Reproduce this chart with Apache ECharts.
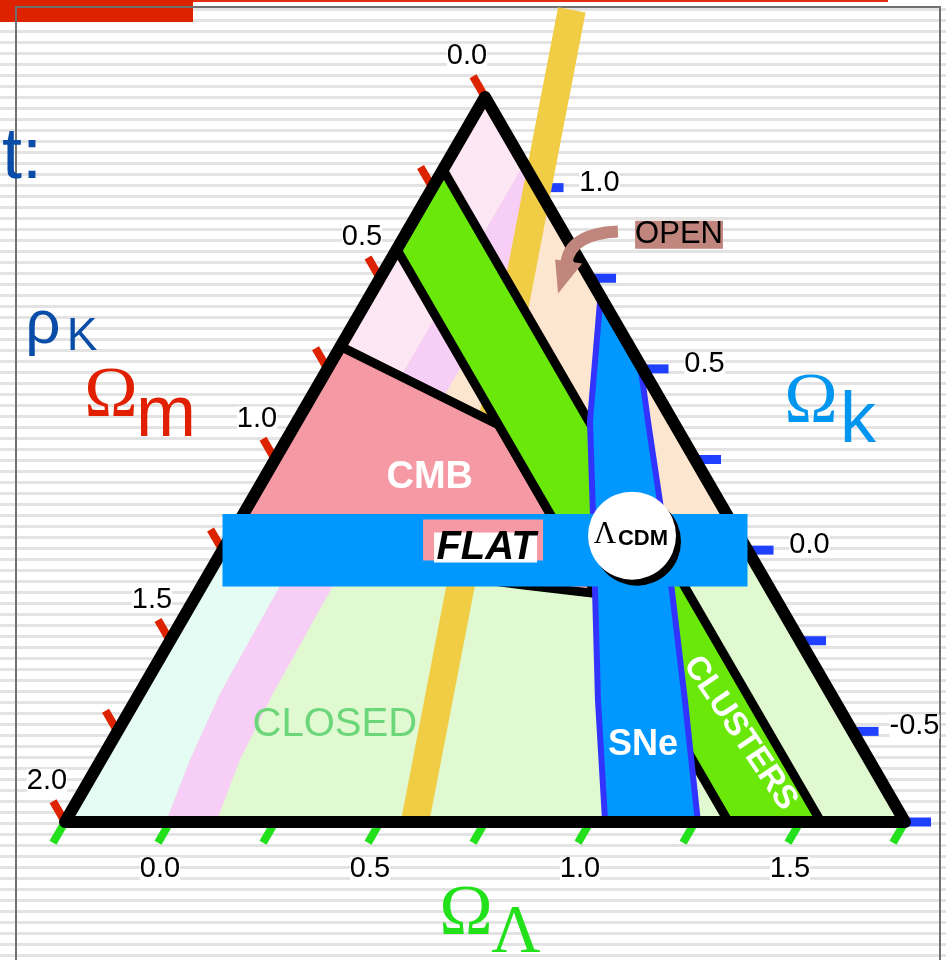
<!DOCTYPE html>
<html>
<head>
<meta charset="utf-8">
<title>Cosmic triangle</title>
<script src="https://cdn.jsdelivr.net/npm/echarts@6.0.0/dist/echarts.min.js"></script>
<style>
  html, body { margin: 0; padding: 0; }
  #main {
    width: 946px; height: 960px;
    background: repeating-linear-gradient(to bottom, #fff 0, #fff 8px, #e3e3e3 8px, #e3e3e3 11px);
  }
</style>
</head>
<body>
<div id="main"></div>
<script>
// every point below is [Ωm, ΩΛ]; Ωk = 1 - Ωm - ΩΛ
const omTicks = [0, 0.25, 0.5, 0.75, 1, 1.25, 1.5, 1.75, 2];
const omLabels = [0, 0.5, 1, 1.5, 2];
const olTicks = [-0.25, 0, 0.25, 0.5, 0.75, 1, 1.25, 1.5, 1.75];
const olLabels = [0, 0.5, 1, 1.5];
const okTicks = [1, 0.75, 0.5, 0.25, 0, -0.25, -0.5, -0.75];
const okLabels = [1, 0.5, 0, -0.5];

const triangle = [[0, -0.25], [0, 1.75], [2, -0.25]];
const openPart = [[0, -0.25], [0, 1], [1.25, -0.25]];
const closedPart = [[1.25, -0.25], [0, 1], [0, 1.75], [2, -0.25]];
// recollapse band (ΩΛ ~ 0)
const pinkLeft = [[0, -0.065], [1.065, -0.065], [1.162, -0.064], [1.453, -0.058], [1.617, -0.038], [1.76, -0.01]];
const pinkRight = [[0, 0.065], [0.935, 0.065], [1.036, 0.062], [1.327, 0.068], [1.498, 0.081], [1.64, 0.11]];
// accelerating / decelerating line ΩΛ = Ωm/2
const yellowLine = [[-0.327, -0.1635], [1.1667, 0.5833]];
const cmbArea = [[0.688, -0.25], [0.42, 0.235], [0.42, 0.70], [0.572, 0.526], [1.241, -0.25]];
const clusterLo = 0.2, clusterHi = 0.42;
const sneLeft = [[0, 0.30], [0.197, 0.447], [0.318, 0.582], [0.419, 0.693], [0.563, 0.851], [0.714, 1.036]];
const sneRight = [[0, 0.49], [0.059, 0.585], [0.154, 0.746], [0.236, 0.876], [0.356, 1.058], [0.493, 1.257]];
const flatBand = [[1.2, -0.3], [-0.05, 0.95], [0.05, 1.05], [1.3, -0.2]];
const lcdm = [0.255, 0.705];

const openLabel = [-0.272, 0.402];
const cmbLabel = [0.657, 0.144];
const flatLabel = [0.619, 0.374];
const closedLabel = [1.224, 0.259];
const sneLabel = [0.518, 1.02];
const clustersLabel = [0.27, 1.235];
const arrowShaft = [[-0.131, 0.252], [-0.014, 0.141], [0.036, 0.173]];
const arrowHead = [[0.057, 0.141], [-0.002, 0.211], [0.097, 0.195]];

const SANS = "'Liberation Sans', Arial, sans-serif";
const SERIF = "'Liberation Serif', 'Times New Roman', serif";
const TICK = 0.057, TICK_K = 0.062;

// ternary -> cartesian (x along base, y = height fraction)
function tern(p) {
  const ok = 1 - p[0] - p[1];
  const c = (ok + 0.75) / 2;
  const b = (p[1] + 0.25) / 2;
  return [b + c / 2, c];
}

function poly(P, pts, fill, stroke, lw) {
  return { type: 'polygon', shape: { points: pts.map(P) },
    style: { fill: fill, stroke: stroke || null, lineWidth: lw || 0, lineJoin: 'round' } };
}
function pline(P, pts, stroke, lw) {
  return { type: 'polyline', shape: { points: pts.map(P) },
    style: { fill: null, stroke: stroke, lineWidth: lw, lineCap: 'butt', lineJoin: 'round' } };
}
function txt(x, y, s, style, extra) {
  return Object.assign({ type: 'text', x: x, y: y,
    style: Object.assign({ text: s, align: 'center', verticalAlign: 'middle' }, style) }, extra || {});
}
function layer(z, build) {
  return {
    type: 'custom', coordinateSystem: 'cartesian2d', z: z, silent: true, clip: false,
    data: [[0, 0]],
    renderItem: function (params, api) {
      const P = function (p) { return api.coord(tern(p)); };
      return { type: 'group', children: build(P) };
    }
  };
}

const numStyle = { fill: '#000', fontSize: 29, fontFamily: SANS, backgroundColor: '#fff', lineHeight: 24 };

const series = [
  layer(1, function (P) {
    return [
      poly(P, openPart, '#fde6cf'),
      poly(P, closedPart, '#e1f9d0'),
      poly(P, [[0, -0.25], [0, -0.065], [1.065, -0.065], [1.25, -0.25]], '#fde7f5'),
      poly(P, [[1.25, -0.25]].concat(pinkLeft.slice(1), [[2, -0.25]]), '#e4fcf4'),
      poly(P, pinkLeft.concat(pinkRight.slice().reverse()), '#f7cff6')
    ];
  }),
  layer(2, function (P) {
    const out = [];
    omTicks.forEach(function (v) { out.push(pline(P, [[v, -0.25], [v, -0.25 - TICK]], '#dd2200', 8)); });
    olTicks.forEach(function (v) { out.push(pline(P, [[1.75 - v, v], [1.75 - v + TICK, v]], '#22e01a', 8)); });
    okTicks.forEach(function (v) { out.push(pline(P, [[0, 1 - v], [-TICK_K, 1 - v + TICK_K]], '#2040ff', 9)); });
    return out;
  }),
  layer(3, function (P) { return [pline(P, yellowLine, '#f0cd45', 28)]; }),
  layer(4, function (P) { return [poly(P, cmbArea, '#f59aa5', '#000', 9)]; }),
  layer(5, function (P) {
    return [
      poly(P, [[clusterLo, -0.25], [clusterLo, 1.75 - clusterLo], [clusterHi, 1.75 - clusterHi], [clusterHi, -0.25]], '#6ae80a'),
      pline(P, [[clusterLo, -0.25], [clusterLo, 1.75 - clusterLo]], '#000', 9),
      pline(P, [[clusterHi, -0.25], [clusterHi, 1.75 - clusterHi]], '#000', 9)
    ];
  }),
  layer(6, function (P) {
    return [
      poly(P, sneLeft.concat(sneRight.slice().reverse()), '#0098ff'),
      pline(P, sneLeft, '#3333ff', 6),
      pline(P, sneRight, '#3333ff', 6)
    ];
  }),
  layer(7, function (P) { return [poly(P, triangle, null, '#000', 12)]; }),
  layer(8, function (P) { return [poly(P, flatBand, '#0098ff')]; }),
  layer(9, function (P) {
    const out = [];
    omLabels.forEach(function (v) { const p = P([v, -0.25]); out.push(txt(p[0] - 18, p[1] - 41, v.toFixed(1), numStyle)); });
    olLabels.forEach(function (v) { const p = P([1.75 - v, v]); out.push(txt(p[0] - 10, p[1] + 47, v.toFixed(1), numStyle)); });
    okLabels.forEach(function (v) { const p = P([0, 1 - v]); out.push(txt(p[0] + 62, p[1] - 5, v.toFixed(1), numStyle)); });

    let p = P(cmbLabel);
    out.push(txt(p[0], p[1], 'CMB', { fill: '#fff', fontSize: 38, fontWeight: 'bold', fontFamily: SANS }));
    p = P(closedLabel);
    out.push(txt(p[0], p[1], 'CLOSED', { fill: '#6cd67a', fontSize: 40, fontFamily: SANS }));
    p = P(sneLabel);
    out.push(txt(p[0], p[1], 'SNe', { fill: '#fff', fontSize: 36, fontWeight: 'bold', fontFamily: SANS }));
    p = P(clustersLabel);
    out.push(txt(p[0], p[1], 'CLUSTERS', { fill: '#fff', fontSize: 33, fontWeight: 'bold', fontFamily: SANS },
      { rotation: -56 * Math.PI / 180 }));

    p = P(flatLabel);
    out.push({ type: 'rect', shape: { x: p[0] - 63, y: p[1] - 28, width: 120, height: 41 }, style: { fill: '#f59aa5' } });
    out.push({ type: 'rect', shape: { x: p[0] - 52, y: p[1] - 15, width: 103, height: 30 }, style: { fill: '#fff' } });
    out.push(txt(p[0], p[1], 'FLAT', { fill: '#000', fontSize: 40, fontWeight: 'bold', fontStyle: 'italic', fontFamily: SANS }));

    p = P(lcdm);
    out.push({ type: 'circle', shape: { cx: p[0] + 5, cy: p[1] + 6, r: 44 }, style: { fill: '#000' } });
    out.push({ type: 'circle', shape: { cx: p[0], cy: p[1], r: 44 }, style: { fill: '#fff' } });
    out.push(txt(p[0] - 27, p[1] - 1, 'Λ', { fill: '#000', fontSize: 31, fontFamily: SERIF }));
    out.push(txt(p[0] + 11, p[1] + 3, 'CDM', { fill: '#000', fontSize: 22, fontWeight: 'bold', fontFamily: SANS }));

    const a0 = P(arrowShaft[0]), a1 = P(arrowShaft[1]), a2 = P(arrowShaft[2]);
    out.push({ type: 'bezierCurve', shape: { x1: a0[0], y1: a0[1], cpx1: a1[0], cpy1: a1[1], x2: a2[0], y2: a2[1] },
      style: { fill: null, stroke: '#c0867e', lineWidth: 12 } });
    out.push(poly(P, arrowHead, '#c0867e'));
    p = P(openLabel);
    out.push(txt(p[0], p[1], 'OPEN', { fill: '#000', fontSize: 31, fontFamily: SANS, backgroundColor: '#c0867e', lineHeight: 28 }));
    return out;
  })
];

const chart = echarts.init(document.getElementById('main'));
chart.setOption({
  animation: false,
  grid: { left: 65, top: 97, width: 840, height: 725 },
  xAxis: { type: 'value', min: 0, max: 1, show: false },
  yAxis: { type: 'value', min: 0, max: 1, show: false },
  graphic: [
    { type: 'rect', shape: { x: 0, y: 0, width: 193, height: 22 }, style: { fill: '#dd2200' } },
    { type: 'line', shape: { x1: 193, y1: 1, x2: 888, y2: 1 }, style: { stroke: '#e03010', lineWidth: 2 } },
    { type: 'line', shape: { x1: 15, y1: 7, x2: 941, y2: 7 }, style: { stroke: '#707070', lineWidth: 2 } },
    { type: 'line', shape: { x1: 16, y1: 7, x2: 16, y2: 960 }, style: { stroke: '#707070', lineWidth: 2 } },
    { type: 'line', shape: { x1: 940, y1: 7, x2: 940, y2: 960 }, style: { stroke: '#707070', lineWidth: 2 } },
    { type: 'text', x: 2, y: 158, style: { text: 't:', fill: '#0a4da8', font: '72px ' + SANS, align: 'left', verticalAlign: 'middle' } },
    { type: 'text', x: 43, y: 326, style: { text: 'ρ', fill: '#0a4da8', font: '62px ' + SANS, align: 'center', verticalAlign: 'middle' } },
    { type: 'text', x: 82, y: 337, style: { text: 'K', fill: '#0a4da8', font: '46px ' + SANS, align: 'center', verticalAlign: 'middle' } },
    { type: 'text', x: 111, y: 397, style: { text: 'Ω', fill: '#e02000', font: '72px ' + SERIF, align: 'center', verticalAlign: 'middle' } },
    { type: 'text', x: 166, y: 416, style: { text: 'm', fill: '#e02000', font: '72px ' + SANS, align: 'center', verticalAlign: 'middle' } },
    { type: 'text', x: 811, y: 403, style: { text: 'Ω', fill: '#0096f0', font: '72px ' + SERIF, align: 'center', verticalAlign: 'middle' } },
    { type: 'text', x: 858, y: 422, style: { text: 'k', fill: '#0096f0', font: '72px ' + SANS, align: 'center', verticalAlign: 'middle' } },
    { type: 'text', x: 466, y: 915, style: { text: 'Ω', fill: '#22e01a', font: '72px ' + SERIF, align: 'center', verticalAlign: 'middle' } },
    { type: 'text', x: 516, y: 933, style: { text: 'Λ', fill: '#22e01a', font: '68px ' + SERIF, align: 'center', verticalAlign: 'middle' } }
  ],
  series: series
});
</script>
</body>
</html>
